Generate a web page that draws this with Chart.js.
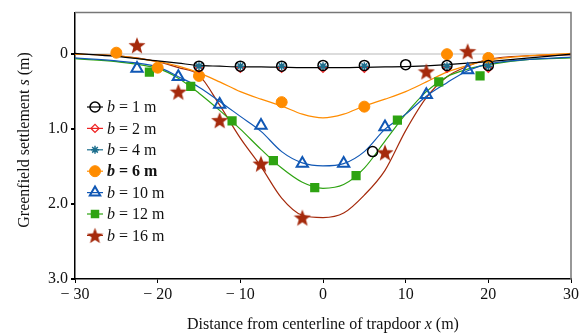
<!DOCTYPE html>
<html>
<head>
<meta charset="utf-8">
<script src="https://cdn.jsdelivr.net/npm/chart.js@4.4.1/dist/chart.umd.min.js"></script>
<style>
  html, body { margin: 0; padding: 0; background: #fff; }
</style>
</head>
<body>
<canvas id="chart" width="586" height="334"></canvas>
<script>
// measured points (x in m, settlement s in m)
const b1X = [-15, -10, -5, 0, 5, 10, 15, 20, 6];
const b1S = [0.16, 0.16, 0.16, 0.15, 0.15, 0.14, 0.15, 0.15, 1.30];
const b2X = [-15, -10, -5, 0, 5, 15, 20];
const b2S = [0.19, 0.19, 0.19, 0.19, 0.19, 0.19, 0.19];
const b4X = [-15, -10, -5, 0, 5, 15, 20];
const b4S = [0.16, 0.16, 0.16, 0.16, 0.16, 0.16, 0.16];
const b6X = [-25, -20, -15, -5, 5, 15, 20];
const b6S = [-0.02, 0.18, 0.29, 0.64, 0.70, 0.0, 0.05];
const b10X = [-22.5, -17.5, -12.5, -7.5, -2.5, 2.5, 7.5, 12.5, 17.5];
const b10S = [0.19, 0.30, 0.67, 0.95, 1.46, 1.46, 0.97, 0.54, 0.21];
const b12X = [-21, -16, -11, -6, -1, 4, 9, 14, 19];
const b12S = [0.24, 0.43, 0.89, 1.42, 1.78, 1.62, 0.88, 0.37, 0.29];
const b16X = [-22.5, -17.5, -12.5, -7.5, -2.5, 7.5, 12.5, 17.5];
const b16S = [-0.12, 0.50, 0.88, 1.46, 2.18, 1.31, 0.23, -0.04];

// fitted curves read at these x positions
const curveX = [-30, -25, -20, -17.5, -15, -12.5, -10, -7.5, -5, -2.5, 0, 2.5, 5, 7.5, 10, 12.5, 15, 17.5, 20, 25, 30];
const fit1 = [-0.01, 0.03, 0.09, 0.12, 0.15, 0.16, 0.17, 0.17, 0.175, 0.18, 0.18, 0.18, 0.175, 0.17, 0.165, 0.155, 0.14, 0.12, 0.10, 0.05, 0.0];
const fit6 = [0.0, 0.02, 0.10, 0.16, 0.25, 0.37, 0.50, 0.60, 0.69, 0.80, 0.85, 0.80, 0.69, 0.60, 0.50, 0.37, 0.24, 0.15, 0.08, 0.02, -0.01];
const fit10 = [0.05, 0.09, 0.17, 0.30, 0.44, 0.63, 0.83, 1.03, 1.30, 1.45, 1.49, 1.46, 1.30, 1.00, 0.80, 0.56, 0.38, 0.22, 0.13, 0.07, 0.04];
const fit12 = [0.06, 0.10, 0.19, 0.32, 0.52, 0.75, 1.00, 1.27, 1.52, 1.71, 1.79, 1.74, 1.52, 1.16, 0.80, 0.50, 0.30, 0.20, 0.14, 0.07, 0.05];
const fit16 = [0.0, 0.02, 0.10, 0.18, 0.28, 0.68, 1.12, 1.50, 1.92, 2.15, 2.18, 2.12, 1.88, 1.55, 1.02, 0.58, 0.30, 0.16, 0.07, 0.02, 0.01];

const xTicks = [-30, -20, -10, 0, 10, 20, 30];
const yTicks = [0, 1, 2, 3];
const yTickLabels = ['0', '1.0', '2.0', '3.0'];

const FONT = "'Liberation Serif', 'DejaVu Serif', serif";
const colBlack = '#000000';
const colRed = '#ee2222';
const colTeal = '#1d6f8e';
const colOrange = '#ff8c00';
const colBlue = '#1158b5';
const colGreen = '#2ea312';
const colBrown = '#a52a0c';

// filled five point star for b = 16 m
function makeStar(size, color) {
  const c = document.createElement('canvas');
  c.width = size; c.height = size;
  const g = c.getContext('2d');
  const cx = size / 2, cy = size / 2 + size * 0.05;
  const R = size / 2, r = R * 0.42;
  g.beginPath();
  for (let i = 0; i < 10; i++) {
    const rad = i % 2 === 0 ? R : r;
    const a = -Math.PI / 2 + i * Math.PI / 5;
    g.lineTo(cx + rad * Math.cos(a), cy + rad * Math.sin(a));
  }
  g.closePath();
  g.fillStyle = color;
  g.fill();
  return c;
}
const starImg = makeStar(18, colBrown);
const starSmall = makeStar(17, colBrown);

const pts = (xs, ys) => xs.map((x, i) => ({ x, y: ys[i] }));

const curve = (ys, color, order) => ({
  data: pts(curveX, ys),
  showLine: true,
  borderColor: color,
  borderWidth: 1.2,
  pointRadius: 0,
  cubicInterpolationMode: 'monotone',
  order,
});

const marks = (xs, ys, opts, order) => Object.assign({
  data: pts(xs, ys),
  showLine: false,
  order,
}, opts);

const series = [
  { label: '1', bold: false, style: 'circle', radius: 5, fill: 'rgba(0,0,0,0)', stroke: colBlack, bw: 1.5 },
  { label: '2', bold: false, style: 'rectRot', radius: 4, fill: 'rgba(0,0,0,0)', stroke: colRed, bw: 1.3 },
  { label: '4', bold: false, style: 'star', radius: 4, fill: colTeal, stroke: colTeal, bw: 1.5 },
  { label: '6', bold: true, style: 'circle', radius: 5.5, fill: colOrange, stroke: colOrange, bw: 1 },
  { label: '10', bold: false, style: 'triangle', radius: 6, fill: 'rgba(0,0,0,0)', stroke: colBlue, bw: 2 },
  { label: '12', bold: false, style: 'rect', radius: 6, fill: colGreen, stroke: colGreen, bw: 0 },
  { label: '16', bold: false, style: starSmall, radius: 8, fill: colBrown, stroke: colBrown, bw: 0 },
];

const datasets = [
  curve(fit6, colOrange, 20),
  curve(fit10, colBlue, 21),
  curve(fit12, colGreen, 22),
  curve(fit16, colBrown, 23),
  curve(fit1, colBlack, 19),
  marks(b1X, b1S, { pointStyle: 'circle', pointRadius: 5, pointBackgroundColor: 'rgba(0,0,0,0)', pointBorderColor: colBlack, pointBorderWidth: 1.5 }, 1),
  marks(b4X, b4S, { pointStyle: 'star', pointRadius: 4, pointBorderColor: colTeal, pointBackgroundColor: colTeal, pointBorderWidth: 1.5 }, 2),
  marks(b2X, b2S, { pointStyle: 'rectRot', pointRadius: 4, pointBackgroundColor: 'rgba(0,0,0,0)', pointBorderColor: colRed, pointBorderWidth: 1.3 }, 3),
  marks(b6X, b6S, { pointStyle: 'circle', pointRadius: 5.5, pointBackgroundColor: colOrange, pointBorderColor: colOrange, pointBorderWidth: 1 }, 4),
  marks(b10X, b10S, { pointStyle: 'triangle', pointRadius: 6.5, pointBackgroundColor: 'rgba(0,0,0,0)', pointBorderColor: colBlue, pointBorderWidth: 2 }, 5),
  marks(b12X, b12S, { pointStyle: 'rect', pointRadius: 6.5, pointBackgroundColor: colGreen, pointBorderColor: colGreen, pointBorderWidth: 0 }, 6),
  marks(b16X, b16S, { pointStyle: starImg, pointRadius: 9 }, 7),
];

// legend, frame and axis titles with mixed italic text
const decorPlugin = {
  id: 'decor',
  afterDraw(chart) {
    const { ctx, chartArea: a } = chart;
    ctx.save();
    // top and right frame
    ctx.strokeStyle = '#777';
    ctx.lineWidth = 1.5;
    ctx.beginPath();
    ctx.moveTo(a.left, a.top);
    ctx.lineTo(a.right, a.top);
    ctx.lineTo(a.right, a.bottom);
    ctx.stroke();

    // legend
    ctx.textBaseline = 'middle';
    series.forEach((s, i) => {
      const y = 107 + i * 21.4;
      ctx.strokeStyle = s.stroke;
      ctx.lineWidth = 1.2;
      ctx.beginPath();
      ctx.moveTo(87, y);
      ctx.lineTo(103, y);
      ctx.stroke();
      ctx.fillStyle = s.fill;
      ctx.strokeStyle = s.stroke;
      ctx.lineWidth = s.bw;
      Chart.helpers.drawPoint(ctx, { pointStyle: s.style, radius: s.radius, rotation: 0, borderWidth: s.bw }, 95, y);
      const w = s.bold ? 'bold ' : '';
      ctx.fillStyle = '#111';
      ctx.font = 'italic ' + w + '16px ' + FONT;
      ctx.textAlign = 'left';
      ctx.fillText('b', 107, y + 1);
      const bw = ctx.measureText('b').width;
      ctx.font = w + '16px ' + FONT;
      ctx.fillText(' = ' + s.label + ' m', 107 + bw, y + 1);
    });

    // x title
    const xParts = [['Distance from centerline of trapdoor ', ''], ['x', 'italic '], [' (m)', '']];
    drawParts(ctx, xParts, (a.left + a.right) / 2, 325);

    // y title
    ctx.translate(25, 140);
    ctx.rotate(-Math.PI / 2);
    const yParts = [['Greenfield settlement ', ''], ['s', 'italic '], [' (m)', '']];
    drawParts(ctx, yParts, 0, 0);
    ctx.restore();
  },
};

function drawParts(ctx, parts, cx, cy) {
  let total = 0;
  parts.forEach(([t, st]) => {
    ctx.font = st + '16px ' + FONT;
    total += ctx.measureText(t).width;
  });
  let x = cx - total / 2;
  ctx.fillStyle = '#111';
  ctx.textAlign = 'left';
  ctx.textBaseline = 'middle';
  parts.forEach(([t, st]) => {
    ctx.font = st + '16px ' + FONT;
    ctx.fillText(t, x, cy);
    x += ctx.measureText(t).width;
  });
}

new Chart(document.getElementById('chart'), {
  type: 'scatter',
  data: { datasets },
  options: {
    responsive: false,
    animation: false,
    layout: { padding: { left: 0, top: 12, right: 15, bottom: 0 } },
    plugins: { legend: { display: false }, tooltip: { enabled: false } },
    scales: {
      x: {
        type: 'linear',
        min: -30,
        max: 30,
        afterFit: (s) => { s.height = 55; },
        afterBuildTicks: (s) => { s.ticks = xTicks.map((v) => ({ value: v })); },
        ticks: {
          color: '#111',
          font: { family: FONT, size: 16 },
          padding: 2,
          maxRotation: 0,
          callback: (v) => (v < 0 ? '\u2212 ' + Math.abs(v) : String(v)),
        },
        grid: { drawOnChartArea: false, tickLength: 4, color: '#000', tickColor: '#000' },
        border: { color: '#000', width: 1.5 },
      },
      y: {
        type: 'linear',
        reverse: true,
        min: -0.555,
        max: 3.0,
        afterFit: (s) => { s.width = 75; },
        afterBuildTicks: (s) => { s.ticks = yTicks.map((v) => ({ value: v })); },
        ticks: {
          color: '#111',
          font: { family: FONT, size: 16 },
          padding: 3,
          callback: (v) => yTickLabels[yTicks.indexOf(v)],
        },
        grid: {
          tickLength: 4,
          color: (c) => (c.tick && c.tick.value === 0 ? '#dcdcdc' : 'rgba(0,0,0,0)'),
          lineWidth: 2,
          tickColor: '#000',
        },
        border: { color: '#000', width: 1.5 },
      },
    },
  },
  plugins: [decorPlugin],
});
</script>
</body>
</html>
